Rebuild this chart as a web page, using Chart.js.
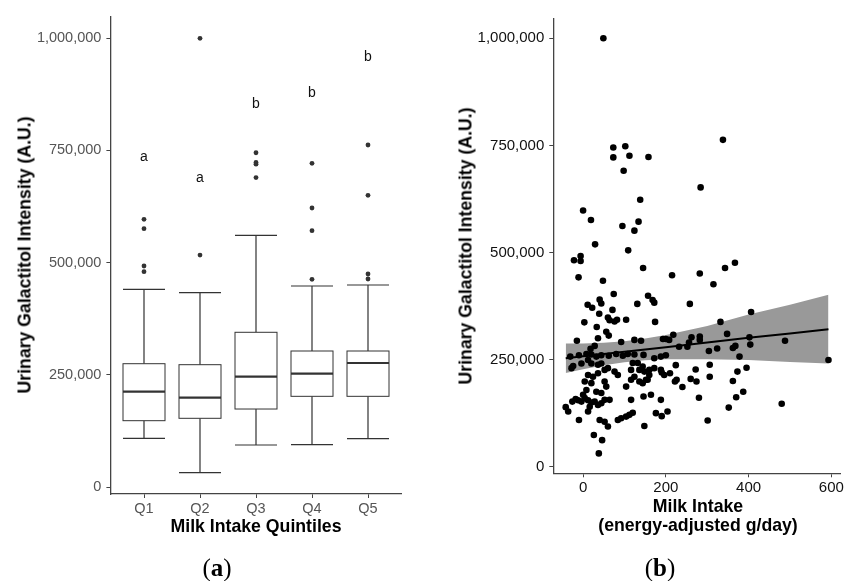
<!DOCTYPE html>
<html>
<head>
<meta charset="utf-8">
<script src="https://cdn.jsdelivr.net/npm/chart.js@4.4.1/dist/chart.umd.min.js"></script>
<style>
  body { margin: 0; width: 846px; height: 581px; background: #fff; overflow: hidden; position: relative;
         font-family: "Liberation Sans", Arial, sans-serif; }
  .wrap { position: absolute; top: 0; height: 581px; }
  .ttl { position: absolute; font-weight: bold; font-size: 17.7px; color: #000; white-space: nowrap;
         transform: translate(-50%, -50%); line-height: 19px; text-align: center; }
  .rot { transform: translate(-50%, -50%) rotate(-90deg); }
  .cap { position: absolute; font-family: "Liberation Serif", serif; font-size: 25px; color: #000;
         transform: translate(-50%, -50%); }
</style>
</head>
<body>
<div class="wrap" style="left:0;width:420px"><canvas id="boxChart" width="420" height="581"></canvas></div>
<div class="wrap" style="left:420px;width:426px"><canvas id="scatterChart" width="426" height="581"></canvas></div>

<div class="ttl rot" style="left:25px;top:255px">Urinary Galactitol Intensity (A.U.)</div>
<div class="ttl" style="left:256px;top:526px">Milk Intake Quintiles</div>
<div class="ttl rot" style="left:466px;top:246px">Urinary Galactitol Intensity (A.U.)</div>
<div class="ttl" style="left:698px;top:516px">Milk Intake<br>(energy-adjusted g/day)</div>
<div class="cap" style="left:217px;top:568px">(<b>a</b>)</div>
<div class="cap" style="left:660px;top:568px">(<b>b</b>)</div>

<script>
// ---- panel (a): boxplot by quintile
const quintiles = ["Q1", "Q2", "Q3", "Q4", "Q5"];
const whiskerLow = [108500, 31900, 93600, 94300, 107600];
const boxLow = [147800, 153100, 173800, 202100, 202100];
const medians = [212400, 199000, 245800, 252500, 276400];
const boxHigh = [274800, 272600, 344800, 303100, 303100];
const whiskerHigh = [440600, 433000, 561000, 448000, 450200];
const outliers = [
  [596600, 575700, 492500, 479800],
  [1000000, 517000],
  [744900, 723300, 719500, 689700],
  [721400, 621800, 571200, 462900],
  [762200, 650100, 474700, 463600]
];
const letters = ["a", "a", "b", "b", "b"];
const letterY = [735000, 689000, 853000, 878000, 958000];
const yTicks = [0, 250000, 500000, 750000, 1000000];

// ---- panel (b): scatter + linear fit
const milkIntake = [
  49, 338, 73, 102, 73, 112, 158, 98, 284, 138, 0, 19, 95, 134, 124, 29, 109, -22, -6, -6,
  -11, 48, 145, 215, 282, 315, 343, 367, 74, 40, 44, 157, 168, 172, 11, 22, 131, 39, 71, 60,
  64, 76, 82, 104, 3, 174, 33, 56, 62, 36, -15, 92, 124, 140, 28, 18, 193, -31, -10, 8,
  20, 32, 44, 62, 80, 96, 108, 124, 146, 172, 188, -24, 12, 20, -4, 36, 44, 52, 60, 12,
  24, 4, 20, 36, 76, 84, 120, 132, 144, 124, 160, 152, 144, 136, 116, 104, 52, 56, 32, 44,
  8, 0, 4, 12, -4, -12, -18, -26, 20, -42, -36, 28, 36, 44, 52, 64, 16, 12, -10, 40,
  52, 60, 26, 46, 38, 84, 92, 104, 112, 120, 116, 146, 164, 148, 176, 188, 116, 136, 148, 156,
  160, 172, 188, 258, 406, 332, 348, 218, 200, 208, 262, 282, 282, 402, 488, 232, 252, 256, 304, 324,
  362, 368, 404, 378, 593, 200, 224, 306, 272, 395, 373, 210, 306, 260, 274, 222, 226, 240, 362, 387,
  370, 280, 480, 352, 204, 190, 301, -28, 190, 196
];
const galactitol = [
  1000000, 763000, 745000, 748000, 722000, 726000, 723000, 691000, 652000, 623000, 598000, 576000, 562000, 572000, 551000, 519000, 505000, 482000, 492000, 480000,
  442000, 434000, 464000, 447000, 451000, 426000, 464000, 476000, 403000, 390000, 381000, 399000, 389000, 383000, 378000, 371000, 380000, 357000, 366000, 348000,
  342000, 339000, 343000, 343000, 337000, 338000, 326000, 315000, 306000, 300000, 294000, 291000, 296000, 294000, 282000, 275000, 298000, 257000, 260000, 263000,
  262000, 257000, 260000, 259000, 263000, 259000, 263000, 262000, 261000, 253000, 257000, 235000, 249000, 241000, 241000, 238000, 241000, 226000, 230000, 214000,
  210000, 199000, 195000, 218000, 222000, 214000, 242000, 242000, 234000, 210000, 226000, 203000, 195000, 199000, 203000, 187000, 199000, 187000, 175000, 172000,
  179000, 168000, 160000, 155000, 152000, 155000, 158000, 152000, 150000, 139000, 129000, 152000, 144000, 148000, 156000, 156000, 140000, 129000, 109000, 109000,
  105000, 94000, 74000, 62000, 31000, 109000, 113000, 117000, 121000, 126000, 156000, 164000, 168000, 95000, 125000, 156000, 226000, 226000, 222000, 203000,
  214000, 230000, 226000, 380000, 361000, 338000, 310000, 308000, 298000, 296000, 302000, 304000, 296000, 302000, 294000, 280000, 280000, 290000, 270000, 276000,
  277000, 282000, 285000, 257000, 249000, 260000, 237000, 238000, 227000, 231000, 222000, 218000, 210000, 205000, 199000, 199000, 203000, 186000, 200000, 175000,
  162000, 161000, 147000, 138000, 129000, 118000, 108000, 230000, 220000, 214000
];
const fitX = [-42, 0, 50, 100, 150, 200, 300, 400, 500, 593];
const fitY = [253200, 257700, 263000, 268400, 273800, 279100, 289800, 301000, 311200, 321100];
const fitUpper = [287600, 287700, 289300, 292900, 299000, 307400, 328600, 355000, 378000, 401500];
const fitLower = [218800, 227700, 236800, 243900, 248500, 250800, 251000, 249000, 244600, 240800];
const milkTicks = [0, 200, 400, 600];

const fmt = v => v.toLocaleString("en-US");

// boxes, whiskers, medians and group letters for panel (a)
const boxPlugin = {
  id: "boxes",
  beforeDatasetsDraw(chart) {
    const { ctx, scales: { x, y } } = chart;
    quintiles.forEach((q, i) => {
      const cx = x.getPixelForValue(i + 1);
      const l = x.getPixelForValue(i + 1 - 0.375);
      const r = x.getPixelForValue(i + 1 + 0.375);
      ctx.save();
      ctx.strokeStyle = "#333";
      ctx.lineWidth = 1.2;
      ctx.beginPath();
      ctx.moveTo(cx, y.getPixelForValue(boxHigh[i]));
      ctx.lineTo(cx, y.getPixelForValue(whiskerHigh[i]));
      ctx.moveTo(cx, y.getPixelForValue(boxLow[i]));
      ctx.lineTo(cx, y.getPixelForValue(whiskerLow[i]));
      ctx.moveTo(l, y.getPixelForValue(whiskerHigh[i]));
      ctx.lineTo(r, y.getPixelForValue(whiskerHigh[i]));
      ctx.moveTo(l, y.getPixelForValue(whiskerLow[i]));
      ctx.lineTo(r, y.getPixelForValue(whiskerLow[i]));
      ctx.stroke();
      const top = y.getPixelForValue(boxHigh[i]);
      const bot = y.getPixelForValue(boxLow[i]);
      ctx.fillStyle = "#fff";
      ctx.fillRect(l, top, r - l, bot - top);
      ctx.lineWidth = 1;
      ctx.strokeRect(l, top, r - l, bot - top);
      ctx.lineWidth = 2.2;
      ctx.beginPath();
      ctx.moveTo(l, y.getPixelForValue(medians[i]));
      ctx.lineTo(r, y.getPixelForValue(medians[i]));
      ctx.stroke();
      ctx.restore();
    });
  },
  afterDatasetsDraw(chart) {
    const { ctx, scales: { x, y } } = chart;
    ctx.save();
    ctx.fillStyle = "#111";
    ctx.font = "14px 'Liberation Sans', Arial, sans-serif";
    ctx.textAlign = "center";
    ctx.textBaseline = "middle";
    letters.forEach((t, i) => ctx.fillText(t, x.getPixelForValue(i + 1), y.getPixelForValue(letterY[i])));
    ctx.restore();
  }
};

const axisStyle = () => ({
  grid: { display: true, drawOnChartArea: false, drawTicks: true, tickLength: 4, color: "#444", lineWidth: 1 },
  border: { display: true, color: "#444", width: 1.3 }
});

new Chart(document.getElementById("boxChart"), {
  type: "scatter",
  data: {
    datasets: [{
      data: outliers.flatMap((list, i) => list.map(v => ({ x: i + 1, y: v }))),
      pointRadius: 2.4,
      backgroundColor: "#333",
      borderWidth: 0
    }]
  },
  options: {
    responsive: false,
    animation: false,
    layout: { padding: { top: 17, right: 18.4, bottom: 57, left: 0 } },
    plugins: { legend: { display: false }, tooltip: { enabled: false } },
    scales: {
      x: {
        type: "linear", min: 0.4, max: 5.6,
        ...axisStyle(),
        afterBuildTicks: s => { s.ticks = quintiles.map((q, i) => ({ value: i + 1 })); },
        afterFit: s => { s.height = 30; },
        ticks: { color: "#555", font: { size: 14.5, family: "'Liberation Sans', Arial" }, padding: 2,
                 callback: v => quintiles[v - 1] }
      },
      y: {
        min: -15600, max: 1047500,
        ...axisStyle(),
        afterBuildTicks: s => { s.ticks = yTicks.map(v => ({ value: v })); },
        afterFit: s => { s.width = 110.4; },
        ticks: { color: "#555", font: { size: 14.5, family: "'Liberation Sans', Arial" }, padding: 5,
                 callback: v => fmt(v) }
      }
    }
  },
  plugins: [boxPlugin]
});

new Chart(document.getElementById("scatterChart"), {
  type: "scatter",
  data: {
    datasets: [
      {
        data: milkIntake.map((v, i) => ({ x: v, y: galactitol[i] })),
        pointRadius: 3.3,
        backgroundColor: "#000",
        borderWidth: 0
      },
      {
        type: "line",
        data: fitX.map((v, i) => ({ x: v, y: fitY[i] })),
        borderColor: "#000", borderWidth: 2, pointRadius: 0, fill: false
      },
      {
        type: "line",
        data: fitX.map((v, i) => ({ x: v, y: fitUpper[i] })),
        borderColor: "rgba(0,0,0,0)", borderWidth: 0, pointRadius: 0,
        fill: "+1", backgroundColor: "#999"
      },
      {
        type: "line",
        data: fitX.map((v, i) => ({ x: v, y: fitLower[i] })),
        borderColor: "rgba(0,0,0,0)", borderWidth: 0, pointRadius: 0, fill: false
      }
    ]
  },
  options: {
    responsive: false,
    animation: false,
    layout: { padding: { top: 18.3, right: 4, bottom: 77.7, left: 0 } },
    plugins: { legend: { display: false }, tooltip: { enabled: false } },
    scales: {
      x: {
        type: "linear", min: -72, max: 621,
        ...axisStyle(),
        afterBuildTicks: s => { s.ticks = milkTicks.map(v => ({ value: v })); },
        afterFit: s => { s.height = 30; },
        ticks: { color: "#111", font: { size: 15, family: "'Liberation Sans', Arial" }, padding: 2 }
      },
      y: {
        min: -15400, max: 1046700,
        ...axisStyle(),
        afterBuildTicks: s => { s.ticks = yTicks.map(v => ({ value: v })); },
        afterFit: s => { s.width = 133.3; },
        ticks: { color: "#111", font: { size: 15, family: "'Liberation Sans', Arial" }, padding: 5,
                 callback: v => fmt(v) }
      }
    }
  }
});
</script>
</body>
</html>
